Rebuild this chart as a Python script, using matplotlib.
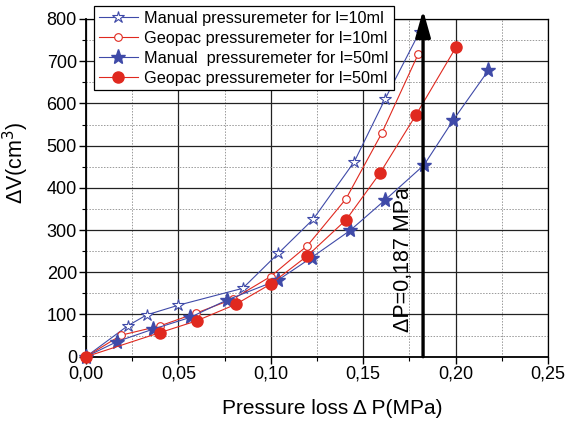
import matplotlib
matplotlib.use("Agg")
import matplotlib.pyplot as plt
from matplotlib.ticker import MultipleLocator

plt.rcParams["font.family"] = ["Liberation Sans", "DejaVu Sans"]

# data
p_man10 = [0.0, 0.0225, 0.0328, 0.050, 0.0848, 0.1041, 0.1230, 0.1452, 0.1618, 0.1806]
v_man10 = [0, 73, 99, 122, 162, 245, 326, 462, 610, 770]

p_geo10 = [0.0, 0.019, 0.040, 0.0595, 0.0797, 0.0999, 0.1198, 0.1407, 0.160, 0.1798]
v_geo10 = [0, 51, 73, 103, 137, 190, 263, 374, 529, 717]

p_man50 = [0.0, 0.0169, 0.0361, 0.0563, 0.0761, 0.1041, 0.1221, 0.1429, 0.1618, 0.1829, 0.1988, 0.2177]
v_man50 = [0, 36, 65, 93, 134, 182, 235, 299, 371, 454, 561, 678]

p_geo50 = [0.0, 0.040, 0.0599, 0.081, 0.0999, 0.1198, 0.1407, 0.1591, 0.1786, 0.2002]
v_geo50 = [0, 57, 85, 124, 172, 239, 324, 435, 573, 733]

labels = ["Manual pressuremeter for l=10ml",
          "Geopac pressuremeter for l=10ml",
          "Manual  pressuremeter for l=50ml",
          "Geopac pressuremeter for l=50ml"]

x_ticks = [0.0, 0.05, 0.10, 0.15, 0.20, 0.25]
x_ticklabels = ["0,00", "0,05", "0,10", "0,15", "0,20", "0,25"]
y_ticks = [0, 100, 200, 300, 400, 500, 600, 700, 800]

dp_arrow = 0.1824
arrow_top = 821

blue = "#3f4aa8"
red = "#e0291f"

fig = plt.figure(figsize=(5.71, 4.24), dpi=100)
ax = fig.add_axes([0.1506, 0.1587, 0.8091, 0.7965])

ax.plot(p_man10, v_man10, color=blue, lw=0.8, marker="*", ms=9,
        mfc="white", mec=blue, mew=0.8, label=labels[0], clip_on=False, zorder=4)
ax.plot(p_geo10, v_geo10, color=red, lw=0.8, marker="o", ms=5.5,
        mfc="white", mec=red, mew=0.8, label=labels[1], clip_on=False, zorder=4)
ax.plot(p_man50, v_man50, color=blue, lw=0.8, marker="*", ms=11,
        mfc=blue, mec=blue, label=labels[2], clip_on=False, zorder=5)
ax.plot(p_geo50, v_geo50, color=red, lw=0.8, marker="o", ms=8,
        mfc=red, mec=red, label=labels[3], clip_on=False, zorder=5)

# pressure loss arrow
ax.annotate("", xy=(dp_arrow, arrow_top), xytext=(dp_arrow, 0),
            arrowprops=dict(arrowstyle="-|>,head_length=1.6,head_width=0.45",
                            mutation_scale=10, lw=2.4, color="black",
                            shrinkA=0, shrinkB=0),
            annotation_clip=False, zorder=6)
ax.text(0.172, 229, "ΔP=0,187 MPa", rotation=90, ha="center", va="center",
        fontsize=15.5)

ax.set_xlim(0, 0.25)
ax.set_ylim(0, 800)
ax.set_xticks(x_ticks)
ax.set_xticklabels(x_ticklabels)
ax.set_yticks(y_ticks)
ax.xaxis.set_minor_locator(MultipleLocator(0.025))
ax.yaxis.set_minor_locator(MultipleLocator(50))
ax.tick_params(which="major", direction="out", length=5, width=1, labelsize=13, pad=1.5)
ax.tick_params(which="minor", direction="out", length=3, width=0.8)

ax.grid(which="major", color="#222222", lw=0.9, ls="-")
ax.grid(which="minor", color="#999999", lw=0.7, ls=(0, (1.5, 1.5)))
ax.set_axisbelow(True)

for side in ["left", "bottom"]:
    ax.spines[side].set_linewidth(1.3)
for side in ["top", "right"]:
    ax.spines[side].set_linewidth(0.9)

ax.set_xlabel("Pressure loss Δ P(MPa)", fontsize=15)
ax.xaxis.set_label_coords(0.532, -0.125)
ax.set_ylabel("ΔV(cm$^3$)", fontsize=15.5)
ax.yaxis.set_label_coords(-0.119, 0.574)

leg = ax.legend(loc="upper left", bbox_to_anchor=(0.1646, 0.9858),
                bbox_transform=fig.transFigure, borderaxespad=0,
                fontsize=11.7, handlelength=2.4, handletextpad=0.4,
                labelspacing=0.3, borderpad=0.3, fancybox=False,
                framealpha=1, edgecolor="black")
leg.get_frame().set_linewidth(0.9)
leg.set_zorder(10)

fig.savefig("out.png", dpi=100)
